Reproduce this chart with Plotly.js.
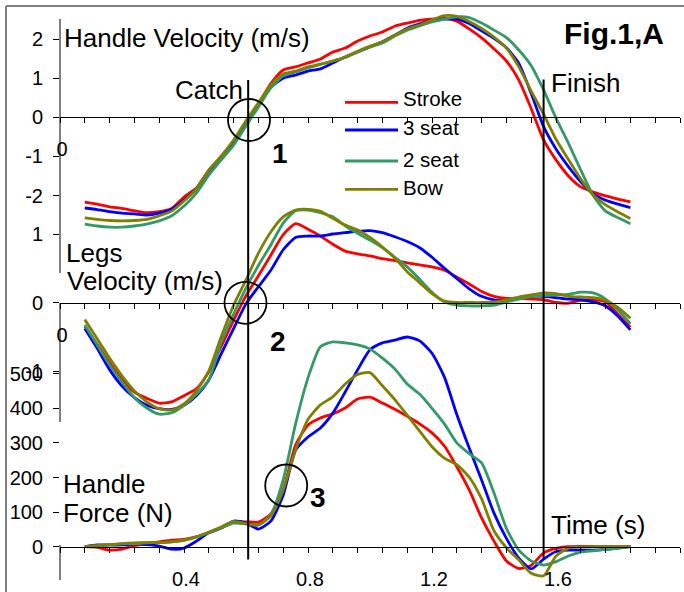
<!DOCTYPE html>
<html><head><meta charset="utf-8">
<script src="https://cdn.plot.ly/plotly-3.0.1.min.js"></script>
<style>html,body{margin:0;padding:0;background:#fff;}#chart{width:684px;height:592px;}</style>
</head><body><div id="chart"></div>
<script>
// ---------------- DATA ----------------
const time = [0.08,0.12,0.16,0.20,0.24,0.28,0.32,0.36,0.40,0.44,0.48,0.52,0.56,0.60,0.64,0.68,0.72,0.76,0.80,0.84,0.88,0.92,0.96,1.00,1.04,1.08,1.12,1.16,1.20,1.24,1.28,1.32,1.36,1.40,1.44,1.48,1.52,1.56,1.60,1.64,1.68,1.72,1.76,1.80,1.84];
const seriesNames = ['Stroke','3 seat','2 seat','Bow'];

// Handle velocity (m/s)
const handleVelStroke = [-2.17,-2.22,-2.29,-2.33,-2.39,-2.44,-2.41,-2.33,-2.04,-1.81,-1.36,-1.04,-0.62,-0.14,0.34,0.86,1.21,1.29,1.39,1.49,1.67,1.77,1.95,2.08,2.18,2.33,2.41,2.48,2.51,2.53,2.46,2.26,2.03,1.75,1.44,0.95,0.22,-0.58,-1.09,-1.50,-1.78,-1.91,-2.01,-2.09,-2.16];
const handleVel3Seat = [-2.32,-2.36,-2.41,-2.45,-2.47,-2.50,-2.45,-2.35,-2.12,-1.83,-1.37,-1.04,-0.63,-0.15,0.33,0.77,1.00,1.08,1.18,1.24,1.39,1.54,1.67,1.80,1.93,2.10,2.28,2.39,2.48,2.51,2.51,2.40,2.21,2.02,1.78,1.38,0.61,-0.24,-0.81,-1.26,-1.65,-1.96,-2.12,-2.22,-2.31];
const handleVel2Seat = [-2.73,-2.78,-2.81,-2.81,-2.78,-2.73,-2.65,-2.52,-2.27,-1.94,-1.48,-1.09,-0.71,-0.22,0.26,0.75,1.06,1.16,1.26,1.35,1.44,1.53,1.67,1.80,1.90,2.08,2.23,2.34,2.44,2.51,2.57,2.55,2.41,2.23,2.04,1.72,1.32,0.70,-0.02,-0.66,-1.35,-2.00,-2.40,-2.57,-2.72];
const handleVelBow = [-2.57,-2.61,-2.64,-2.65,-2.64,-2.61,-2.52,-2.40,-2.14,-1.83,-1.35,-0.99,-0.58,-0.09,0.37,0.83,1.11,1.18,1.29,1.36,1.44,1.54,1.69,1.82,1.93,2.10,2.26,2.36,2.49,2.60,2.58,2.45,2.27,2.05,1.77,1.29,0.67,0.08,-0.56,-1.08,-1.58,-1.99,-2.24,-2.42,-2.59];

// Legs velocity (m/s)
const legsVelStroke = [-0.35,-0.61,-0.88,-1.13,-1.31,-1.40,-1.47,-1.45,-1.36,-1.26,-1.01,-0.64,-0.26,0.10,0.39,0.69,0.99,1.15,1.07,0.97,0.85,0.75,0.71,0.68,0.64,0.61,0.58,0.55,0.52,0.47,0.37,0.27,0.16,0.09,0.06,0.06,0.05,0.04,0.00,-0.01,0.03,0.04,0.01,-0.17,-0.36];
const legsVel3Seat = [-0.38,-0.67,-0.98,-1.22,-1.39,-1.50,-1.55,-1.56,-1.50,-1.36,-1.13,-0.75,-0.38,-0.02,0.23,0.47,0.77,0.95,0.97,0.97,1.00,1.02,1.04,1.05,1.02,0.96,0.89,0.80,0.66,0.50,0.35,0.20,0.09,0.04,0.03,0.06,0.09,0.09,0.07,0.05,0.04,0.01,-0.05,-0.20,-0.40];
const legsVel2Seat = [-0.33,-0.62,-0.91,-1.16,-1.39,-1.54,-1.63,-1.61,-1.50,-1.34,-1.13,-0.58,-0.17,0.21,0.54,0.84,1.16,1.34,1.35,1.31,1.25,1.12,1.01,0.91,0.80,0.66,0.52,0.34,0.15,0.01,-0.04,-0.05,-0.05,-0.04,0.01,0.05,0.09,0.10,0.11,0.12,0.15,0.14,0.05,-0.11,-0.31];
const legsVelBow = [-0.25,-0.53,-0.81,-1.07,-1.29,-1.45,-1.55,-1.57,-1.48,-1.29,-1.00,-0.50,-0.04,0.33,0.72,1.03,1.25,1.35,1.36,1.33,1.23,1.13,1.06,0.95,0.81,0.65,0.45,0.29,0.13,0.02,0.00,0.00,0.00,0.01,0.04,0.08,0.11,0.14,0.13,0.09,0.08,0.07,0.03,-0.07,-0.23];

// Handle force (N)
const forceStroke = [0,-2,-10,-7,3,9,14,19,21,29,41,55,71,72,71,95,164,294,352,372,384,401,427,432,415,397,377,355,329,291,231,164,83,16,-41,-63,-54,-18,-5,0,1,1,0,0,0];
const force3Seat = [0,5,5,5,8,6,2,-7,-4,16,40,54,74,68,51,74,149,279,317,343,386,447,511,569,589,597,606,595,559,490,382,285,193,97,24,-33,-64,-36,-14,-10,-10,-10,-8,-4,0];
const force2Seat = [0,2,5,8,9,11,12,14,19,28,41,54,68,66,63,92,193,355,488,578,592,589,583,571,545,514,470,441,400,355,300,269,242,155,53,-10,-41,-53,-43,-27,-16,-12,-8,-4,0];
const forceBow = [0,3,6,9,11,12,12,14,18,28,42,57,73,66,63,89,164,280,368,410,433,470,498,503,465,425,380,334,289,256,237,201,138,46,-3,-38,-77,-84,-27,-4,-1,0,0,0,0];

const catchTime = 0.607;
const finishTime = 1.56;

const velTickVals = [-2,-1,0,1,2];
const velTickText = ['-2','-1','0','1','2'];
const legsTickVals = [-1,0,1];
const legsTickText = ['-1','0','1'];
const forceTickVals = [0,100,200,300,400,500];
const forceTickText = ['0','100','200','300','400','500'];
const timeLabelVals = [0.4,0.8,1.2,1.6];
const timeLabelText = ['0.4','0.8','1.2','1.6'];

// ---------------- LAYOUT HELPERS ----------------
const W = 684, H = 592, ML = 60, MR = 4, MT = 10, MB = 12;
const PW = W - ML - MR, PH = H - MT - MB;
const xp = px => (px - ML) / PW;
const yp = py => (H - MB - py) / PH;
const yRange = (zeroPx, ppu) => [-(H - MB - zeroPx) / ppu, (zeroPx - MT) / ppu];

const colors = ['#FF0000', '#0000FF', '#339966', '#808000'];
const FONT = 'Arial, "Liberation Sans", sans-serif';

const minorTicks = [];
for (let i = 0; i <= 25; i++) minorTicks.push(+(i * 0.08).toFixed(2));
const bottomText = minorTicks.map(v => { const k = timeLabelVals.indexOf(v); return k >= 0 ? timeLabelText[k] : ''; });
const zeroOnlyText = minorTicks.map(v => v === 0 ? '0' : '');

const panels = [
  {ys: [handleVelStroke, handleVel3Seat, handleVel2Seat, handleVelBow], xa: 'x', ya: 'y'},
  {ys: [legsVelStroke, legsVel3Seat, legsVel2Seat, legsVelBow], xa: 'x2', ya: 'y2'},
  {ys: [forceStroke, force3Seat, force2Seat, forceBow], xa: 'x3', ya: 'y3'}
];
const traces = [];
panels.forEach(p => p.ys.forEach((ys, i) => traces.push({
  x: time, y: ys, xaxis: p.xa, yaxis: p.ya, type: 'scatter', mode: 'lines',
  name: seriesNames[i], showlegend: false, line: {color: colors[i], width: 2.8, shape: 'spline', smoothing: 0.6}
})));

const xBase = {
  domain: [0, 1], range: [0, 2], anchor: 'free', showline: true, linecolor: '#000', linewidth: 1,
  ticks: 'outside', ticklen: 5, tickcolor: '#000', tickwidth: 1, tickvals: minorTicks,
  tickfont: {size: 20, color: '#000', family: FONT}, showgrid: false, zeroline: false,
  ticklabelstandoff: 9, ticklabelshift: 2, fixedrange: true
};
const yBase = {
  domain: [0, 1], showline: false, ticks: 'outside', ticklen: 6, tickcolor: '#000', tickwidth: 1,
  tickfont: {size: 20, color: '#000', family: FONT}, showgrid: false, zeroline: false,
  ticklabelstandoff: 6, fixedrange: true
};

const layout = {
  width: W, height: H, margin: {l: ML, r: MR, t: MT, b: MB, pad: 0},
  paper_bgcolor: '#fff', plot_bgcolor: 'rgba(0,0,0,0)', showlegend: false,
  font: {family: FONT, color: '#000'},
  xaxis: Object.assign({}, xBase, {position: yp(117.3), ticktext: zeroOnlyText}),
  xaxis2: Object.assign({}, xBase, {position: yp(302.5), ticktext: zeroOnlyText, overlaying: 'x'}),
  xaxis3: Object.assign({}, xBase, {position: yp(546.7), ticktext: bottomText, overlaying: 'x'}),
  yaxis: Object.assign({}, yBase, {range: yRange(117.3, 39.1), anchor: 'x', tickvals: velTickVals, ticktext: velTickText}),
  yaxis2: Object.assign({}, yBase, {range: yRange(302.5, 68.5), anchor: 'x2', overlaying: 'y', tickvals: legsTickVals, ticktext: legsTickText}),
  yaxis3: Object.assign({}, yBase, {range: yRange(546.7, 0.346), anchor: 'x3', overlaying: 'y', tickvals: forceTickVals, ticktext: forceTickText}),
  shapes: [], annotations: []
};

const S = layout.shapes, A = layout.annotations;
// frame
S.push({type: 'line', xref: 'paper', yref: 'paper', x0: xp(6), x1: xp(6), y0: yp(600), y1: yp(6), line: {color: '#808080', width: 2}});
S.push({type: 'line', xref: 'paper', yref: 'paper', x0: xp(6), x1: xp(700), y0: yp(6), y1: yp(6), line: {color: '#808080', width: 2}});
// left axis line pieces
[[19, 273], [303, 422], [545, 580]].forEach(s => S.push({type: 'line', xref: 'paper', yref: 'paper', x0: 0, x1: 0, y0: yp(s[0]), y1: yp(s[1]), line: {color: '#000', width: 1}}));
// catch / finish
S.push({type: 'line', xref: 'x', yref: 'paper', x0: catchTime, x1: catchTime, y0: yp(80), y1: yp(559.5), line: {color: '#000', width: 2}});
S.push({type: 'line', xref: 'x', yref: 'paper', x0: finishTime, x1: finishTime, y0: yp(79.5), y1: yp(558.5), line: {color: '#000', width: 2}});
// circles
[[249, 120], [245.5, 302.8], [286.2, 485.5]].forEach(c => S.push({type: 'circle', xref: 'paper', yref: 'paper',
  x0: xp(c[0] - 21), x1: xp(c[0] + 21), y0: yp(c[1] + 21), y1: yp(c[1] - 21), line: {color: '#000', width: 1.8}}));
// legend (manual)
const legLineY = [102.3, 130, 161, 189.3];
const legTextY = [98.8, 128, 159.5, 187.5];
seriesNames.forEach((n, i) => {
  S.push({type: 'line', xref: 'paper', yref: 'paper', x0: xp(345), x1: xp(398), y0: yp(legLineY[i]), y1: yp(legLineY[i]), line: {color: colors[i], width: 2.8}});
  A.push({text: n, xref: 'paper', yref: 'paper', x: xp(401.5), y: yp(legTextY[i]), xanchor: 'left', yanchor: 'middle', showarrow: false, borderpad: 0, font: {size: 20.5, color: '#000', family: FONT}});
});

function label(text, px, py, xanchor, size, bold) {
  A.push({text: bold ? '<b>' + text + '</b>' : text, xref: 'paper', yref: 'paper', x: xp(px), y: yp(py), xanchor: xanchor, yanchor: 'middle',
    showarrow: false, borderpad: 0, font: {size: size, color: '#000', family: FONT}});
}
label('Handle Velocity (m/s)', 63, 37.5, 'left', 26);
label('Catch', 244, 90, 'right', 26);
label('Finish', 550, 83.3, 'left', 26);
label('Fig.1,A', 563, 33.5, 'left', 30, true);
label('Legs', 65, 253, 'left', 26);
label('Velocity (m/s)', 66, 281, 'left', 26);
label('Handle', 61.5, 484, 'left', 26);
label('Force (N)', 61.5, 513, 'left', 26);
label('Time (s)', 549.5, 525, 'left', 26);
label('1', 279.5, 153, 'center', 28, true);
label('2', 277.7, 341.7, 'center', 28, true);
label('3', 317.5, 497.5, 'center', 28, true);

Plotly.newPlot('chart', traces, layout, {staticPlot: true, displayModeBar: false});
</script></body></html>
